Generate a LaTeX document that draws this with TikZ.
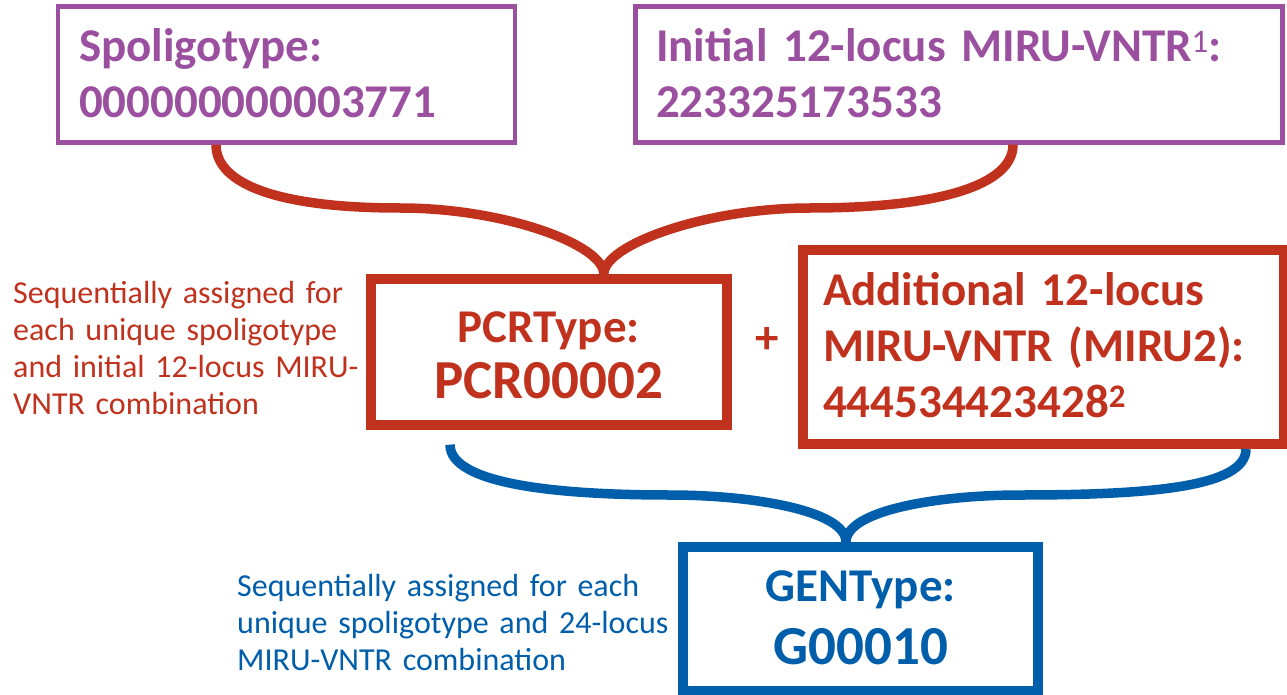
\documentclass[tikz,border=0pt]{standalone}
\usepackage{fontspec}
\setmainfont{Carlito}
\usepackage{xcolor}
\usepackage{tikz}
\usetikzlibrary{positioning}
\definecolor{spolpurple}{HTML}{9B4F9F}
\definecolor{pcrred}{HTML}{C0321E}
\definecolor{genblue}{HTML}{005EAA}

\begin{document}
\begin{tikzpicture}[
  x=1pt,y=-1pt,
  idbox/.style={draw,rectangle,inner ysep=0pt,text height=30pt,font=\fontsize{47}{56}\selectfont\bfseries},
  spolbox/.style={idbox,draw=spolpurple,text=spolpurple,line width=4.5pt,minimum height=136pt,text depth=55pt},
  pcrbox/.style={idbox,draw=pcrred,text=pcrred,line width=10pt},
  genbox/.style={idbox,draw=genblue,text=genblue,line width=10pt},
  note/.style={inner sep=0pt,anchor=base west,font=\fontsize{32}{37.3}\selectfont},
  brace/.style={line width=9.5pt},
]
\useasboundingbox (0,0) rectangle (1287,695);

% input typings
\node[spolbox,minimum width=457pt,text width=415pt,inner xsep=21pt] (spoligo) at (286.5,74.5)
  {Spoligotype:\\000000000003771};
\node[spolbox,minimum width=647pt,text width=606pt,inner xsep=20.5pt] (miruA) at (959,74.5)
  {Initial 12-locus MIRU-VNTR\textsuperscript{\mdseries 1}:\\223325173533};

% PCRType level
\node[pcrbox,minimum width=355.7pt,minimum height=145.7pt,text width=300pt,inner xsep=27.85pt,
  text depth=49.6pt,align=center] (pcrtype) at (548.8,351.8)
  {PCRType:\\{\fontsize{55}{56}\selectfont PCR00002}};
\node[pcrbox,minimum width=481.5pt,minimum height=194pt,text width=440.5pt,inner xsep=20.5pt,
  text depth=114pt] (miruB) at (1043.25,347)
  {Additional 12-locus\\MIRU-VNTR (MIRU2):\\444534423428\textsuperscript{2}};
\node[text=pcrred,anchor=base,inner sep=0pt,font=\fontsize{47}{56}\selectfont\bfseries] (plus) at (767,353) {+};
\node[note,text=pcrred,text width=360pt] (pcrnote) at (13,303)
  {Sequentially assigned for\\each unique spoligotype\\and initial 12-locus MIRU-\\VNTR combination};

% GENType level
\node[genbox,minimum width=355.3pt,minimum height=144pt,text width=300pt,inner xsep=27.65pt,
  text depth=64.6pt,align=center,font=\fontsize{47}{63}\selectfont\bfseries] (gentype) at (860.7,619)
  {GENType:\\{\fontsize{55}{63}\selectfont G00010}};
\node[note,text=genblue,text width=440pt] (gennote) at (237,596)
  {Sequentially assigned for each\\unique spoligotype and 24-locus\\MIRU-VNTR combination};

% braces
\coordinate (redkneeL) at (400,208);
\coordinate (redkneeR) at (810,208);
\coordinate (bluekneeL) at (670,495);
\coordinate (bluekneeR) at (1020,495);
\coordinate (redjoin) at ([xshift=55pt]pcrtype.north);
\coordinate (bluejoin) at ([xshift=-14.7pt]gentype.north);

\draw[brace,pcrred] ([xshift=-70.5pt]spoligo.south) .. controls +(0,40) and +(-120,0) .. (redkneeL)
  .. controls +(105,0) and +(0,-29) .. (redjoin);
\draw[brace,pcrred] ([xshift=54pt]miruA.south) .. controls +(0,40) and +(130,0) .. (redkneeR)
  .. controls +(-105,0) and +(0,-29) .. (redjoin);
\draw[brace,genblue] ([xshift=-98.8pt,yshift=-15pt]pcrtype.south) .. controls +(0,40) and +(-110,0) .. (bluekneeL)
  .. controls +(80,0) and +(0,-32) .. (bluejoin);
\draw[brace,genblue] ([xshift=202.75pt]miruB.south) .. controls +(0,38) and +(130,0) .. (bluekneeR)
  .. controls +(-80,0) and +(0,-32) .. (bluejoin);
\end{tikzpicture}
\end{document}
